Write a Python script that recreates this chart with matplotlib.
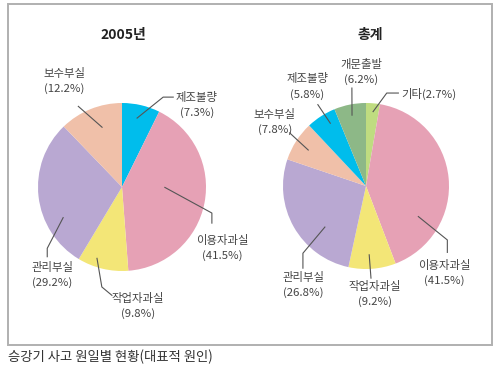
import numpy as np
import matplotlib
matplotlib.use("Agg")
import matplotlib.pyplot as plt
from matplotlib.patches import Rectangle

plt.rcParams['font.family'] = ['Noto Sans CJK KR', 'DejaVu Sans']

# data
titles = ['2005년', '총계']
labels_2005 = ['제조불량', '이용자과실', '작업자과실', '관리부실', '보수부실']
values_2005 = [7.3, 41.5, 9.8, 29.2, 12.2]
labels_total = ['기타', '이용자과실', '작업자과실', '관리부실', '보수부실', '제조불량', '개문출발']
values_total = [2.7, 41.5, 9.2, 26.8, 7.8, 5.8, 6.2]
caption = '승강기 사고 원일별 현황(대표적 원인)'

colors = {
    '제조불량': '#00bdec', '이용자과실': '#e6a1b5', '작업자과실': '#f3e677',
    '관리부실': '#b9a8d2', '보수부실': '#f0c0a9', '개문출발': '#8db887',
    '기타': '#bfdc80',
}

# label layout: (anchor frac along wedge, anchor radius, line path points, text pos, ha, one-line)
layout_2005 = {
    '제조불량': (0.47, 0.84, [(0.49, 1.07), (0.61, 1.07)], (0.89, 0.98), 'center', False),
    '이용자과실': (0.43, 0.51, [(1.07, -0.31), (1.07, -0.43)], (1.19, -0.73), 'center', False),
    '작업자과실': (0.67, 0.90, [(-0.24, -1.19), (-0.12, -1.29)], (0.19, -1.42), 'center', False),
    '관리부실': (0.30, 0.79, [(-0.89, -0.73), (-0.89, -0.83)], (-0.83, -1.05), 'center', False),
    '보수부실': (0.58, 0.75, [(-0.52, 0.96)], (-0.69, 1.26), 'center', False),
}
layout_total = {
    '기타': (0.56, 0.90, [(0.25, 1.12), (0.39, 1.12)], (0.43, 1.11), 'left', True),
    '이용자과실': (0.74, 0.73, [(0.98, -0.65), (0.98, -0.80)], (0.94, -1.05), 'center', False),
    '작업자과실': (0.55, 0.83, [(0.06, -1.11)], (0.11, -1.30), 'center', False),
    '관리부실': (0.34, 0.70, [(-0.76, -0.81), (-0.76, -0.99)], (-0.75, -1.19), 'center', False),
    '보수부실': (0.47, 0.82, [(-0.92, 0.64)], (-1.10, 0.77), 'center', False),
    '제조불량': (0.65, 0.87, [(-0.58, 0.98)], (-0.71, 1.20), 'center', False),
    '개문출발': (0.50, 0.87, [(-0.17, 1.18)], (-0.06, 1.37), 'center', False),
}

W, H = 500, 375
fig = plt.figure(figsize=(5, 3.75), dpi=100)

# outer frame
fig.add_artist(Rectangle((8 / W, 1 - 345 / H), 484 / W, 341 / H, transform=fig.transFigure,
                         fill=False, edgecolor='#b0b0b0', linewidth=1.4))
fig.text(8 / W, 1 - 357 / H, caption, fontsize=9.6, color='#333333', ha='left', va='center')

LIM = 1.45
txtc = '#444444'
linec = '#555555'


def draw_pie(cx, cy, scale, title, labels, values, layout):
    size = 2 * LIM * scale
    ax = fig.add_axes([(cx - LIM * scale) / W, 1 - (cy + LIM * scale) / H, size / W, size / H])
    wedges, _ = ax.pie(values, startangle=90, counterclock=False, radius=1,
                       colors=[colors[l] for l in labels],
                       wedgeprops=dict(linewidth=0))
    ax.set_xlim(-LIM, LIM)
    ax.set_ylim(-LIM, LIM)
    ax.axis('off')
    for w, lab, val in zip(wedges, labels, values):
        frac, r, path, tpos, ha, oneline = layout[lab]
        # wedge goes clockwise: theta2 -> theta1
        ang = np.deg2rad(w.theta2 - frac * (w.theta2 - w.theta1))
        pts = [(r * np.cos(ang), r * np.sin(ang))] + path
        xs, ys = zip(*pts)
        ax.plot(xs, ys, color=linec, lw=0.8, clip_on=False)
        if oneline:
            s = f'{lab}({val}%)'
        else:
            s = f'{lab}\n({val}%)'
        ax.text(tpos[0], tpos[1], s, ha=ha, va='center', fontsize=8.2, color=txtc,
                linespacing=1.5, multialignment='center')
    return ax


ax1 = draw_pie(122, 187, 84, titles[0], labels_2005, values_2005, layout_2005)
ax2 = draw_pie(366, 186, 83, titles[1], labels_total, values_total, layout_total)
fig.text(123 / W, 1 - 35 / H, titles[0], fontsize=10, fontweight='bold', color='#222222',
         ha='center', va='center')
fig.text(370 / W, 1 - 35 / H, titles[1], fontsize=10, fontweight='bold', color='#222222',
         ha='center', va='center')

fig.savefig('out.png', dpi=100)
